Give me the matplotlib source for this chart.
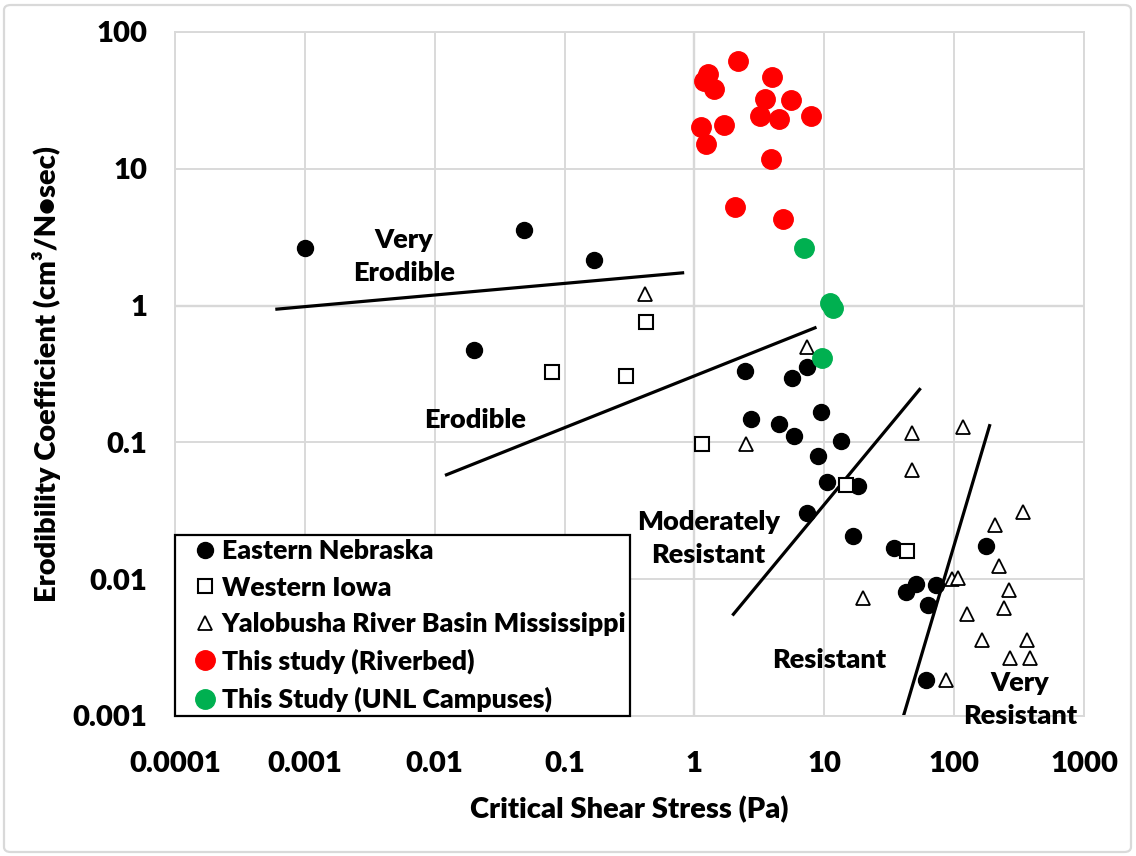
import matplotlib
matplotlib.use("Agg")
import matplotlib.pyplot as plt
from matplotlib.patches import FancyBboxPatch
from matplotlib.lines import Line2D
from matplotlib.legend_handler import HandlerLine2D
from matplotlib.ticker import FixedLocator, FixedFormatter, NullLocator

plt.rcParams['font.family'] = ['Lato', 'DejaVu Sans']
WEIGHT = "heavy"
plt.rcParams['font.weight'] = WEIGHT

# Eastern Nebraska
en_x = [0.00101, 0.0484, 0.169, 0.0201, 2.47, 5.69, 7.30, 2.73, 4.51, 5.82, 9.42, 13.4,
        8.98, 10.45, 18.2, 7.30, 16.6, 34.5, 175, 50.7, 42.8, 72.6, 62.8, 61.2]
en_y = [2.63, 3.54, 2.16, 0.472, 0.334, 0.295, 0.353, 0.149, 0.137, 0.112, 0.166, 0.1016,
        0.079, 0.0513, 0.0483, 0.0305, 0.0207, 0.0168, 0.0176, 0.0093, 0.0081, 0.00914,
        0.00643, 0.00182]

# Western Iowa
wi_x = [0.0804, 0.296, 0.421, 1.14, 14.7, 43.3]
wi_y = [0.326, 0.307, 0.756, 0.098, 0.0486, 0.016]

# Yalobusha River Basin Mississippi
ms_x = [0.418, 7.39, 2.49, 47.4, 118, 47.4, 340, 205, 222, 95.5, 108, 263, 242, 19.8,
        126, 163, 366, 269, 384, 86.7]
ms_y = [1.21, 0.502, 0.0978, 0.117, 0.129, 0.063, 0.031, 0.0248, 0.01245, 0.00995,
        0.0102, 0.0083, 0.00618, 0.00723, 0.0056, 0.00359, 0.0036, 0.00267, 0.00267,
        0.00182]

# This study (Riverbed)
rv_x = [2.18, 1.28, 1.19, 1.41, 3.99, 3.47, 5.58, 3.18, 4.51, 7.94, 1.12, 1.69, 1.22,
        3.92, 2.04, 4.82]
rv_y = [61.7, 49.6, 43.5, 38.3, 46.9, 32.3, 32.0, 24.2, 23.2, 24.5, 20.3, 20.9, 15.2,
        11.8, 5.27, 4.30]

# This Study (UNL Campuses)
unl_x = [7.03, 11.1, 11.7, 9.6]
unl_y = [2.64, 1.05, 0.956, 0.413]

# Erodibility class boundaries (end points)
bound_x = [[0.000592, 0.834], [0.012, 8.71], [1.96, 55.2], [40.7, 189]]
bound_y = [[0.94, 1.74], [0.0574, 0.695], [0.00543, 0.249], [0.001, 0.136]]

# Class labels
zone_text = ["Very\nErodible", "Erodible", "Moderately\nResistant", "Resistant",
             "Very\nResistant"]
zone_x = [0.0058, 0.0205, 1.28, 11.0, 320]
zone_y = [2.3, 0.146, 0.0199, 0.00255, 0.00133]

x_ticks = [0.0001, 0.001, 0.01, 0.1, 1, 10, 100, 1000]
x_labels = ["0.0001", "0.001", "0.01", "0.1", "1", "10", "100", "1000"]
y_ticks = [0.001, 0.01, 0.1, 1, 10, 100]
y_labels = ["0.001", "0.01", "0.1", "1", "10", "100"]

W, H = 1136, 856
fig = plt.figure(figsize=(W / 100, H / 100), dpi=100)
ax = fig.add_axes([175 / W, 1 - 716 / H, 909 / W, 684 / H])

# outer chart border
fig.patches.append(FancyBboxPatch((4 / W, 4 / H), 1 - 9 / W, 1 - 9 / H,
                                  boxstyle="round,pad=0,rounding_size=0.006",
                                  transform=fig.transFigure, fill=False,
                                  edgecolor="#d9d9d9", linewidth=1.6))

ax.set_xscale("log")
ax.set_yscale("log")
ax.set_xlim(0.0001, 1000)
ax.set_ylim(0.001, 100)

grid_c = "#d9d9d9"
ax.grid(True, which="major", color=grid_c, linewidth=1.4, zorder=0)
ax.set_axisbelow(True)
for s in ax.spines.values():
    s.set_color(grid_c)
    s.set_linewidth(1.4)
ax.axvline(1, color="#bfbfbf", linewidth=1.6, zorder=0.5)
ax.axhline(1, color="#bfbfbf", linewidth=1.6, zorder=0.5)

ax.xaxis.set_major_locator(FixedLocator(x_ticks))
ax.xaxis.set_major_formatter(FixedFormatter(x_labels))
ax.yaxis.set_major_locator(FixedLocator(y_ticks))
ax.yaxis.set_major_formatter(FixedFormatter(y_labels))
ax.xaxis.set_minor_locator(NullLocator())
ax.yaxis.set_minor_locator(NullLocator())
ax.tick_params(axis="x", length=0, pad=25, labelsize=21)
ax.tick_params(axis="y", length=0, pad=20, labelsize=21)
for lab in ax.get_xticklabels() + ax.get_yticklabels():
    lab.set_fontweight(WEIGHT)

ax.set_xlabel("Critical Shear Stress (Pa)", fontsize=21, fontweight=WEIGHT)
ax.set_ylabel("Erodibility Coefficient (cm³/N•sec)", fontsize=21, fontweight=WEIGHT)
ax.xaxis.set_label_coords(0.5, -0.117)
ax.yaxis.set_label_coords(-0.125, 0.5)

for bx, by in zip(bound_x, bound_y):
    ax.plot(bx, by, color="black", linewidth=2.3, solid_capstyle="butt", zorder=2)

ax.plot(en_x, en_y, "o", color="black", markersize=11.5, linestyle="none",
        label="Eastern Nebraska", zorder=3)
ax.plot(wi_x, wi_y, "s", markerfacecolor="white", markeredgecolor="black",
        markeredgewidth=1.5, markersize=10.5, linestyle="none",
        label="Western Iowa", zorder=4)
ax.plot(ms_x, ms_y, "^", markerfacecolor="white", markeredgecolor="black",
        markeredgewidth=1.3, markersize=10.5, linestyle="none",
        label="Yalobusha River Basin Mississippi", zorder=4)
ax.plot(rv_x, rv_y, "o", color="#ff0000", markersize=14, linestyle="none",
        label="This study (Riverbed)", zorder=5)
ax.plot(unl_x, unl_y, "o", color="#00b050", markersize=14, linestyle="none",
        label="This Study (UNL Campuses)", zorder=5)

for t, zx, zy in zip(zone_text, zone_x, zone_y):
    ax.text(zx, zy, t, ha="center", va="center", fontsize=19.5, fontweight=WEIGHT,
            linespacing=1.45, clip_on=False, zorder=6)

leg = ax.legend(loc="lower left", bbox_to_anchor=(0, 0), borderaxespad=0,
                fancybox=False, frameon=True, edgecolor="black", framealpha=1,
                prop={"size": 19.2, "weight": WEIGHT}, handlelength=1.42,
                handletextpad=0.19, labelspacing=0.47, borderpad=0.14,
                handler_map={Line2D: HandlerLine2D(xpad=0.54, numpoints=1)})
leg.get_frame().set_linewidth(1.6)
leg.set_zorder(7)

fig.savefig("out.png", dpi=100)
